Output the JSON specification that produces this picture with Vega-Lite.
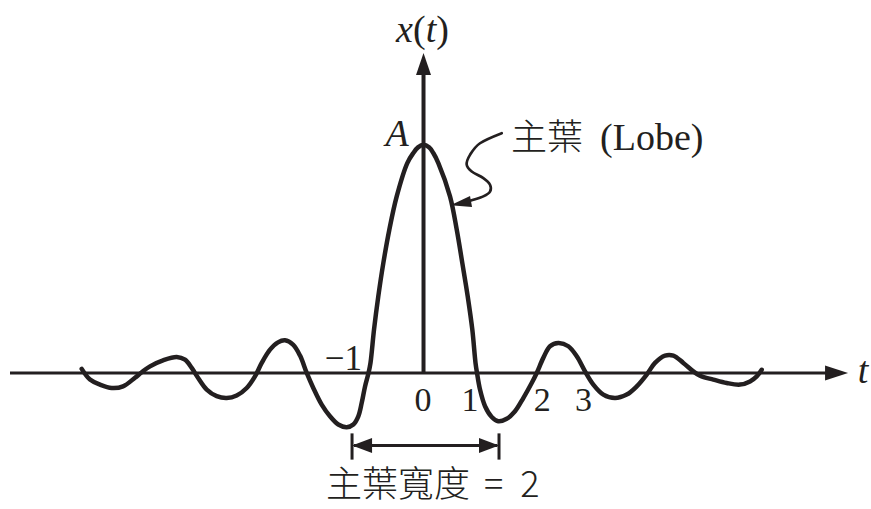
{
  "$schema": "https://vega.github.io/schema/vega-lite/v6.json",
  "width": 871,
  "height": 509,
  "autosize": {"type": "fit", "contains": "padding"},
  "padding": 0,
  "background": "white",
  "config": {"view": {"stroke": null}},
  "datasets": {
    "curve": [
      {"t": -6.389, "v": 0.018}, {"t": -6.234, "v": -0.029}, {"t": -6.047, "v": -0.051},
      {"t": -5.828, "v": -0.066}, {"t": -5.617, "v": -0.059}, {"t": -5.393, "v": -0.021},
      {"t": -5.267, "v": 0.003}, {"t": -5.112, "v": 0.029}, {"t": -4.869, "v": 0.055},
      {"t": -4.613, "v": 0.070}, {"t": -4.458, "v": 0.058}, {"t": -4.333, "v": 0.022},
      {"t": -4.215, "v": -0.021}, {"t": -4.052, "v": -0.073}, {"t": -3.865, "v": -0.102},
      {"t": -3.679, "v": -0.110}, {"t": -3.492, "v": -0.099}, {"t": -3.305, "v": -0.066},
      {"t": -3.150, "v": -0.015}, {"t": -3.024, "v": 0.044}, {"t": -2.869, "v": 0.102},
      {"t": -2.720, "v": 0.134}, {"t": -2.589, "v": 0.143}, {"t": -2.439, "v": 0.124},
      {"t": -2.308, "v": 0.076}, {"t": -2.183, "v": 0.000}, {"t": -2.060, "v": -0.066},
      {"t": -1.903, "v": -0.139}, {"t": -1.748, "v": -0.190}, {"t": -1.593, "v": -0.226},
      {"t": -1.436, "v": -0.238}, {"t": -1.312, "v": -0.226}, {"t": -1.219, "v": -0.190},
      {"t": -1.155, "v": -0.131}, {"t": -1.093, "v": -0.059}, {"t": -1.028, "v": 0.000},
      {"t": -0.991, "v": 0.044}, {"t": -0.925, "v": 0.190}, {"t": -0.845, "v": 0.336},
      {"t": -0.751, "v": 0.482}, {"t": -0.639, "v": 0.628}, {"t": -0.501, "v": 0.774},
      {"t": -0.303, "v": 0.920}, {"t": -0.191, "v": 0.964}, {"t": -0.103, "v": 0.989},
      {"t": 0.0, "v": 1.0}, {"t": 0.103, "v": 0.989}, {"t": 0.183, "v": 0.964},
      {"t": 0.277, "v": 0.920}, {"t": 0.495, "v": 0.774}, {"t": 0.621, "v": 0.628},
      {"t": 0.725, "v": 0.482}, {"t": 0.826, "v": 0.336}, {"t": 0.912, "v": 0.190},
      {"t": 0.972, "v": 0.044}, {"t": 1.0, "v": 0.0}, {"t": 1.056, "v": -0.073},
      {"t": 1.150, "v": -0.146}, {"t": 1.275, "v": -0.193}, {"t": 1.398, "v": -0.212},
      {"t": 1.555, "v": -0.201}, {"t": 1.710, "v": -0.168}, {"t": 1.865, "v": -0.110},
      {"t": 2.022, "v": -0.044}, {"t": 2.116, "v": 0.000}, {"t": 2.239, "v": 0.066},
      {"t": 2.364, "v": 0.117}, {"t": 2.520, "v": 0.131}, {"t": 2.707, "v": 0.117},
      {"t": 2.864, "v": 0.073}, {"t": 3.019, "v": 0.007}, {"t": 3.174, "v": -0.051},
      {"t": 3.361, "v": -0.095}, {"t": 3.579, "v": -0.110}, {"t": 3.798, "v": -0.095},
      {"t": 3.985, "v": -0.059}, {"t": 4.172, "v": -0.007}, {"t": 4.327, "v": 0.044},
      {"t": 4.514, "v": 0.076}, {"t": 4.669, "v": 0.076}, {"t": 4.856, "v": 0.044},
      {"t": 5.043, "v": 0.007}, {"t": 5.168, "v": -0.012}, {"t": 5.417, "v": -0.029},
      {"t": 5.667, "v": -0.044}, {"t": 5.916, "v": -0.051}, {"t": 6.103, "v": -0.037},
      {"t": 6.228, "v": -0.015}, {"t": 6.321, "v": 0.014}
    ],
    "leader": [
      {"i": 0, "t": 1.462, "v": 1.051}, {"i": 1, "t": 1.056, "v": 1.007},
      {"i": 2, "t": 0.869, "v": 0.956}, {"i": 3, "t": 0.807, "v": 0.913},
      {"i": 4, "t": 0.901, "v": 0.883}, {"i": 5, "t": 1.118, "v": 0.854},
      {"i": 6, "t": 1.243, "v": 0.825}, {"i": 7, "t": 1.243, "v": 0.795},
      {"i": 8, "t": 1.118, "v": 0.774}, {"i": 9, "t": 0.931, "v": 0.759},
      {"i": 10, "t": 0.84, "v": 0.752}
    ]
  },
  "encoding": {
    "x": {"field": "t", "type": "quantitative", "scale": {"domain": [-7.916, 8.364], "nice": false, "zero": false}, "axis": null},
    "y": {"field": "v", "type": "quantitative", "scale": {"domain": [-0.5965, 1.635], "nice": false, "zero": false}, "axis": null}
  },
  "layer": [
    {
      "data": {"values": [{"t": -7.729, "t2": 7.55, "v": 0}]},
      "mark": {"type": "rule", "strokeWidth": 3, "color": "#231f20"},
      "encoding": {"x2": {"field": "t2"}}
    },
    {
      "data": {"values": [{"t": 0, "v": 0, "v2": 1.32}]},
      "mark": {"type": "rule", "strokeWidth": 4, "color": "#231f20"},
      "encoding": {"y2": {"field": "v2"}}
    },
    {
      "data": {"name": "curve"},
      "mark": {"type": "line", "strokeWidth": 4.5, "color": "#231f20", "interpolate": "catmull-rom", "strokeJoin": "round", "strokeCap": "round"},
      "encoding": {}
    },
    {
      "data": {"name": "leader"},
      "mark": {"type": "line", "strokeWidth": 2.7, "color": "#231f20", "interpolate": "cardinal", "strokeCap": "round"},
      "encoding": {"order": {"field": "i", "type": "quantitative"}}
    },
    {
      "data": {"values": [{"t": -1.30, "t2": 1.38, "v": -0.318}]},
      "mark": {"type": "rule", "strokeWidth": 3, "color": "#231f20"},
      "encoding": {"x2": {"field": "t2"}}
    },
    {
      "data": {"values": [{"t": -1.336, "v": -0.265, "v2": -0.38}, {"t": 1.411, "v": -0.265, "v2": -0.38}]},
      "mark": {"type": "rule", "strokeWidth": 3, "color": "#231f20"},
      "encoding": {"y2": {"field": "v2"}}
    },
    {
      "data": {"values": [{"t": 7.935, "v": 0}]},
      "mark": {"type": "point", "shape": "M0,0L-2.3,-0.75L-2.3,0.75Z", "size": 400, "filled": true, "opacity": 1, "strokeWidth": 0, "color": "#231f20"}
    },
    {
      "data": {"values": [{"t": 0, "v": 1.403}]},
      "mark": {"type": "point", "shape": "M0,0L-0.75,2.2L0.75,2.2Z", "size": 400, "filled": true, "opacity": 1, "strokeWidth": 0, "color": "#231f20"}
    },
    {
      "data": {"values": [{"t": -1.336, "v": -0.318}]},
      "mark": {"type": "point", "shape": "M0,0L2,-0.75L2,0.75Z", "size": 400, "filled": true, "opacity": 1, "strokeWidth": 0, "color": "#231f20"}
    },
    {
      "data": {"values": [{"t": 1.411, "v": -0.318}]},
      "mark": {"type": "point", "shape": "M0,0L-2,-0.75L-2,0.75Z", "size": 400, "filled": true, "opacity": 1, "strokeWidth": 0, "color": "#231f20"}
    },
    {
      "data": {"values": [{"t": 0.505, "v": 0.735}]},
      "mark": {"type": "point", "shape": "M0,0L2.15,0.16L1.95,-0.92Z", "size": 400, "filled": true, "opacity": 1, "strokeWidth": 0, "color": "#231f20"}
    },
    {
      "data": {"values": [{"t": -0.514, "v": 1.451, "label": "x"}, {"t": 0.041, "v": 1.451, "label": "t"}]},
      "mark": {"type": "text", "font": "Liberation Serif", "fontStyle": "italic", "fontSize": 38, "align": "left", "baseline": "alphabetic", "color": "#231f20"},
      "encoding": {"text": {"field": "label"}}
    },
    {
      "data": {"values": [{"t": -0.196, "v": 1.451, "label": "("}, {"t": 0.239, "v": 1.451, "label": ")"}]},
      "mark": {"type": "text", "font": "Liberation Serif", "fontSize": 38, "align": "left", "baseline": "alphabetic", "color": "#231f20"},
      "encoding": {"text": {"field": "label"}}
    },
    {
      "data": {"values": [{"t": -0.495, "v": 0.996, "label": "A"}, {"t": 8.215, "v": -0.0425, "label": "t"}]},
      "mark": {"type": "text", "font": "Liberation Serif", "fontStyle": "italic", "fontSize": 38, "align": "center", "baseline": "alphabetic", "color": "#231f20"},
      "encoding": {"text": {"field": "label"}}
    },
    {
      "data": {"values": [{"t": -0.009, "v": -0.165, "label": "0"}, {"t": 0.869, "v": -0.165, "label": "1"}, {"t": 2.22, "v": -0.165, "label": "2"}, {"t": 2.99, "v": -0.165, "label": "3"}]},
      "mark": {"type": "text", "font": "Liberation Serif", "fontSize": 34, "align": "center", "baseline": "alphabetic", "color": "#231f20"},
      "encoding": {"text": {"field": "label"}}
    },
    {
      "data": {"values": [{"t": -1.15, "v": 0.0145, "label": "−1"}]},
      "mark": {"type": "text", "font": "Liberation Serif", "fontSize": 35, "align": "right", "baseline": "alphabetic", "color": "#231f20"},
      "encoding": {"text": {"field": "label"}}
    },
    {
      "data": {"values": [{"t": 1.636, "v": 0.978, "label": "主葉"}, {"t": -1.822, "v": -0.545, "label": "主葉寬度"}, {"t": 1.13, "v": -0.545, "label": "="}, {"t": 1.81, "v": -0.545, "label": "2"}]},
      "mark": {"type": "text", "font": "Noto Sans CJK TC", "fontSize": 36, "fontWeight": 300, "align": "left", "baseline": "alphabetic", "color": "#231f20"},
      "encoding": {"text": {"field": "label"}}
    },
    {
      "data": {"values": [{"t": 3.299, "v": 0.978, "label": "(Lobe)"}]},
      "mark": {"type": "text", "font": "Liberation Serif", "fontSize": 38, "align": "left", "baseline": "alphabetic", "color": "#231f20"},
      "encoding": {"text": {"field": "label"}}
    }
  ]
}
